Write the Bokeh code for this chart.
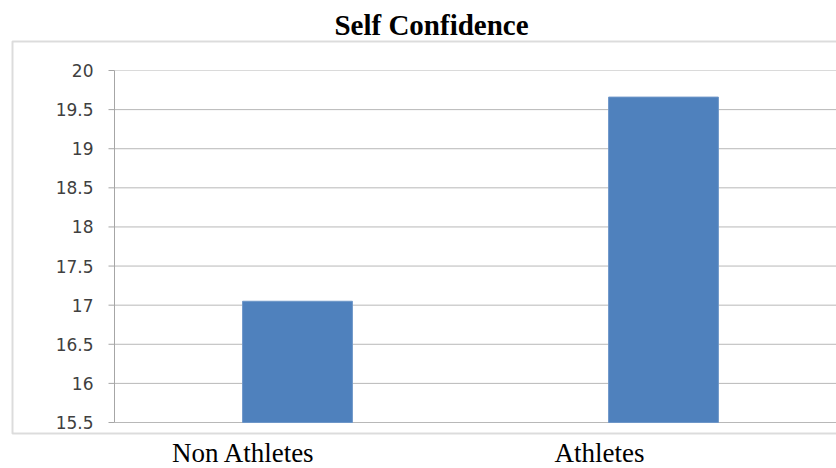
import math
from bokeh.plotting import figure
from bokeh.models import Range1d, ColumnDataSource, BoxAnnotation
from bokeh.core.properties import value
from bokeh.embed import file_html
from bokeh.resources import INLINE

# --- data -------------------------------------------------------------
categories = ["Non Athletes", "Athletes"]
scores = [17.05, 19.66]
tick_values = [15.5, 16, 16.5, 17, 17.5, 18, 18.5, 19, 19.5, 20]
tick_labels = ["15.5", "16", "16.5", "17", "17.5", "18", "18.5", "19", "19.5", "20"]
chart_title = "Self Confidence"

# --- page layout (pixels) ----------------------------------------------
W, H = 836, 468
AXIS_X = 114                               # value axis position
Y_TOP_PX, Y_BOTTOM_PX = 70, 422            # where the first / last tick sit
SLOT_PX = 366                              # width of one category slot
BOX_LEFT, BOX_TOP, BOX_BOTTOM = 12, 41, 433
TITLE_X, TITLE_Y = 431, 24
LABEL_SHIFT_PX = [54, 64]                  # category names sit left of bars
LABEL_DROP_PX = 30                         # names hang below the axis

y_min, y_max = tick_values[0], tick_values[-1]
px_per_unit = (Y_BOTTOM_PX - Y_TOP_PX) / (y_max - y_min)


def to_x(px):
    return (px - AXIS_X) / SLOT_PX


def to_y(py):
    return y_max - (py - Y_TOP_PX) / px_per_unit


positions = [i + 0.5 for i in range(len(categories))]
src = ColumnDataSource(dict(x=positions, top=scores, name=categories,
                            bottom=[y_min] * len(scores),
                            dx=[-s for s in LABEL_SHIFT_PX]))
grid_colors = ["#dadada" if v == y_max else "#b8b8b8" for v in tick_values]
ticks_src = ColumnDataSource(dict(y=tick_values, label=tick_labels,
                                  x=[0] * len(tick_values), color=grid_colors))

p = figure(width=W, height=H, output_backend="svg", toolbar_location=None,
           x_range=Range1d(to_x(0), to_x(W)),
           y_range=Range1d(to_y(H), to_y(0)),
           x_axis_location=None, y_axis_location=None,
           min_border=0)
p.outline_line_color = None
p.background_fill_color = "white"
p.border_fill_color = "white"
p.grid.grid_line_color = None

# chart border
p.add_layout(BoxAnnotation(left=to_x(BOX_LEFT), right=to_x(W + 20),
                           top=to_y(BOX_TOP), bottom=to_y(BOX_BOTTOM),
                           fill_color=None, line_color="#8c8c8c",
                           line_width=2, level="underlay"))

# horizontal gridlines and tick stubs
p.ray(x="x", y="y", length=0, angle=0, source=ticks_src,
      line_color="color", line_width=1)
p.ray(x="x", y="y", length=6, length_units="screen", angle=math.pi,
      source=ticks_src, line_color="#a6a6a6", line_width=1)
# value axis line
p.segment(x0=[0], y0=[y_min], x1=[0], y1=[y_max],
          line_color="#a6a6a6", line_width=1)
# value tick labels
p.text(x="x", y="y", text="label", source=ticks_src,
       x_offset=-21, text_align="right", text_baseline="middle",
       text_font=value("DejaVu Sans"), text_font_size="17px",
       text_color="#404040")

# bars
p.vbar(x="x", top="top", bottom="bottom", width=0.30, source=src,
       fill_color="#4f81bd", line_color="#6d96c8", line_width=1)

# category names
p.text(x="x", y="bottom", text="name", source=src,
       x_offset="dx", y_offset=LABEL_DROP_PX,
       text_align="center", text_baseline="alphabetic",
       text_font=value("Liberation Serif"), text_font_size="27px",
       text_color="black")

# title
p.text(x=[to_x(TITLE_X)], y=[to_y(TITLE_Y)], text=[chart_title],
       text_align="center", text_baseline="alphabetic",
       text_font=value("Liberation Serif"), text_font_style="bold",
       text_font_size="29px", text_color="black")

open("out.html", "w").write(file_html(p, INLINE))
